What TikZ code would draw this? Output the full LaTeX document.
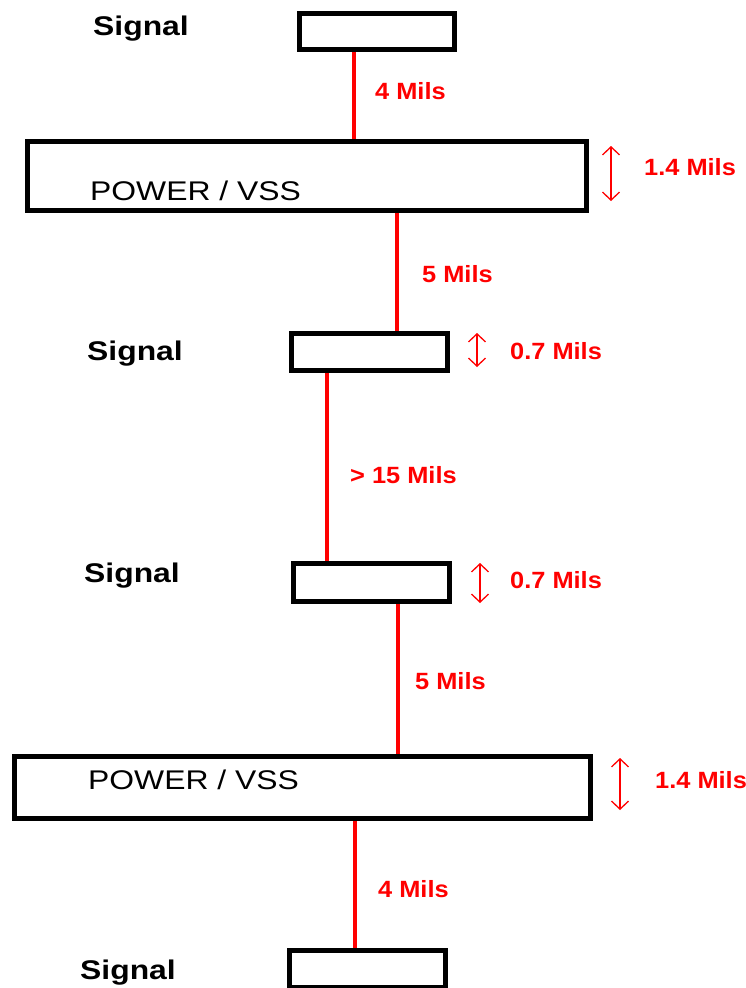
\documentclass[tikz,border=0pt]{standalone}
\usepackage{fontspec}
\setmainfont{Liberation Sans}
\newfontfamily\blkfont[FakeStretch=1.18]{Liberation Sans}
\newfontfamily\redfont[FakeStretch=1.08]{Liberation Sans}
\usetikzlibrary{arrows.meta}
\definecolor{pcbred}{RGB}{255,0,0}
\tikzset{
  layer/.style={draw=black, line width=5pt, fill=white, inner sep=0pt, minimum width=#1},
  trace/.style={draw=pcbred, line width=4.5pt},
  dimarrow/.style={draw=pcbred, line width=1.3pt, {Straight Barb[length=8pt,width=17pt]}-{Straight Barb[length=8pt,width=17pt]}},
  blacktext/.style={inner sep=0pt, anchor=base west, font=\blkfont\fontsize{27}{27}\selectfont},
  sigtext/.style={inner sep=0pt, anchor=base west, font=\blkfont\bfseries\fontsize{27}{27}\selectfont},
  redtext/.style={inner sep=0pt, anchor=base west, text=pcbred, font=\redfont\bfseries\fontsize{23.5}{23.5}\selectfont}
}
\begin{document}
\begin{tikzpicture}[x=1pt,y=-1pt]
\useasboundingbox (0,0) rectangle (746,988);
\clip (0,0) rectangle (746,988);
% layers (outer edges given, centre line inset by 2.5)
\node[layer=155pt, minimum height=36pt] (s1) at (377,31.5) {};
\node[layer=559pt, minimum height=69pt] (p1) at (307,176) {};
\node[layer=156pt, minimum height=37pt] (s2) at (369.5,352) {};
\node[layer=156pt, minimum height=38pt] (s3) at (371.5,582.5) {};
\node[layer=576pt, minimum height=62pt] (p2) at (302.5,787.5) {};
\node[layer=156pt, minimum height=37pt] (s4) at (367.5,969) {};
% traces
\draw[trace] (s1.south -| 354,0) -- (p1.north -| 354,0);
\draw[trace] (p1.south -| 397,0) -- (s2.north -| 397,0);
\draw[trace] (s2.south -| 327,0) -- (s3.north -| 327,0);
\draw[trace] (s3.south -| 398,0) -- (p2.north -| 398,0);
\draw[trace] (p2.south -| 355,0) -- (s4.north -| 355,0);
% black labels
\node[sigtext] (t1) at (93,35) {Signal};
\node[blacktext] (t2) at (90,200) {POWER / VSS};
\node[sigtext] (t3) at (87,360) {Signal};
\node[sigtext] (t4) at (84,582) {Signal};
\node[blacktext] (t5) at (88,789) {POWER / VSS};
\node[sigtext] (t6) at (80,979) {Signal};
% red labels
\node[redtext] (r1) at (375,99) {4 Mils};
\node[redtext] (r2) at (644,175) {1.4 Mils};
\node[redtext] (r3) at (422,282) {5 Mils};
\node[redtext] (r4) at (510,359) {0.7 Mils};
\node[redtext] (r5) at (350,483) {> 15 Mils};
\node[redtext] (r6) at (510,588) {0.7 Mils};
\node[redtext] (r7) at (415,689) {5 Mils};
\node[redtext] (r8) at (655,788) {1.4 Mils};
\node[redtext] (r9) at (378,897) {4 Mils};
% thickness arrows
\coordinate (a1t) at (611,146); \coordinate (a1b) at (611,201);
\coordinate (a2t) at (477,333); \coordinate (a2b) at (477,367);
\coordinate (a3t) at (480,563); \coordinate (a3b) at (480,603);
\coordinate (a4t) at (620,758); \coordinate (a4b) at (620,810);
\draw[dimarrow] (a1t) -- (a1b);
\draw[dimarrow] (a2t) -- (a2b);
\draw[dimarrow] (a3t) -- (a3b);
\draw[dimarrow] (a4t) -- (a4b);
\end{tikzpicture}
\end{document}
